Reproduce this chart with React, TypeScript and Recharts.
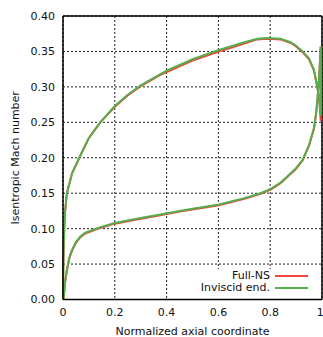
import {
  LineChart,
  Line,
  XAxis,
  YAxis,
  CartesianGrid,
  ReferenceLine,
} from "recharts";

// Blade surface path: pressure side LE -> TE, trailing edge spike, suction side TE -> LE
const axialCoord = [
  0.002, 0.008, 0.015, 0.025, 0.035, 0.05, 0.067, 0.085, 0.106, 0.144, 0.2,
  0.3, 0.376, 0.45, 0.5, 0.602, 0.7, 0.763, 0.802, 0.84, 0.867, 0.899, 0.925,
  0.95, 0.969, 0.978, 0.984, 0.99, 0.995, 0.995, 0.99, 0.982, 0.969, 0.95,
  0.925, 0.9, 0.879, 0.84, 0.789, 0.75, 0.7, 0.602, 0.5, 0.4, 0.376, 0.3,
  0.25, 0.2, 0.144, 0.1, 0.063, 0.035, 0.015, 0.007, 0.003, 0.001, 0,
];

const fullNs = [
  0.0, 0.024, 0.041, 0.059, 0.069, 0.08, 0.088, 0.093, 0.096, 0.101, 0.107,
  0.114, 0.119, 0.124, 0.127, 0.133, 0.142, 0.149, 0.155, 0.164, 0.173, 0.184,
  0.196, 0.217, 0.241, 0.264, 0.289, 0.32, 0.357, 0.252, 0.28, 0.299, 0.323,
  0.339, 0.349, 0.357, 0.362, 0.367, 0.368, 0.367, 0.361, 0.35, 0.337, 0.321,
  0.317, 0.301, 0.288, 0.272, 0.25, 0.228, 0.2, 0.178, 0.15, 0.12, 0.08, 0.04,
  0.0,
];

const inviscidEnd = [
  0.0, 0.025, 0.042, 0.06, 0.07, 0.081, 0.089, 0.094, 0.097, 0.102, 0.108,
  0.115, 0.12, 0.125, 0.128, 0.134, 0.143, 0.15, 0.156, 0.165, 0.174, 0.185,
  0.197, 0.218, 0.242, 0.265, 0.29, 0.32, 0.357, 0.26, 0.28, 0.3, 0.324, 0.34,
  0.35, 0.358, 0.363, 0.368, 0.369, 0.368, 0.363, 0.352, 0.339, 0.323, 0.318,
  0.302, 0.289, 0.273, 0.25, 0.228, 0.2, 0.178, 0.15, 0.12, 0.08, 0.04, 0.0,
];

const xTicks = [0, 0.2, 0.4, 0.6, 0.8, 1];
const yTicks = [0, 0.05, 0.1, 0.15, 0.2, 0.25, 0.3, 0.35, 0.4];

const RED = "#f0463c";
const GREEN = "#57ad4e";
const FONT = "'DejaVu Sans', sans-serif";

const data = axialCoord.map((x, i) => ({
  x,
  fullNs: fullNs[i],
  inviscid: inviscidEnd[i],
}));

const legendItems = [
  { name: "Full-NS", color: RED },
  { name: "Inviscid end.", color: GREEN },
];

// legend drawn over the plot, bottom right (like gnuplot's key)
function LegendBox() {
  return (
    <div
      style={{
        position: "absolute",
        left: 198,
        width: 110,
        top: 269,
        height: 29,
        paddingTop: 1,
        boxSizing: "border-box",
        fontFamily: FONT,
        fontSize: 11,
        color: "#111",
        background: "#fff",
        lineHeight: "12px",
      }}
    >
      {legendItems.map((it) => (
        <div
          key={it.name}
          style={{
            display: "flex",
            alignItems: "center",
            justifyContent: "flex-end",
            height: 12,
          }}
        >
          <span>{it.name}</span>
          <span
            style={{
              display: "inline-block",
              width: 33,
              height: 2,
              marginLeft: 5,
              background: it.color,
            }}
          />
        </div>
      ))}
    </div>
  );
}

export default function App() {
  return (
    <div style={{ position: "absolute", left: 0, top: 0, width: 323, height: 337 }}>
      <LineChart
        width={323}
        height={337}
        data={data}
        margin={{ top: 16, right: 1, bottom: 0, left: 0 }}
        style={{ fontFamily: FONT }}
      >
        <CartesianGrid stroke="#222" strokeDasharray="2 2" />
        <XAxis
          type="number"
          dataKey="x"
          domain={[0, 1]}
          ticks={xTicks}
          tickFormatter={(v: number) => String(v)}
          tick={{ fill: "#111", fontSize: 11 }}
          tickLine={false}
          tickMargin={3}
          axisLine={{ stroke: "#000", strokeWidth: 1.5 }}
          height={37.5}
          label={{
            value: "Normalized axial coordinate",
            position: "insideBottom",
            offset: 2,
            fill: "#111",
            fontSize: 11,
          }}
        />
        <YAxis
          type="number"
          domain={[0, 0.4]}
          ticks={yTicks}
          tickFormatter={(v: number) => v.toFixed(2)}
          tick={{ fill: "#111", fontSize: 11 }}
          tickLine={false}
          axisLine={{ stroke: "#000", strokeWidth: 1.5 }}
          width={63}
          label={{
            value: "Isentropic Mach number",
            angle: -90,
            position: "insideLeft",
            offset: 15,
            fill: "#111",
            fontSize: 11,
            style: { textAnchor: "middle" },
          }}
        />
        <ReferenceLine y={0.4} stroke="#000" strokeWidth={1.5} />
        <ReferenceLine x={1} stroke="#000" strokeWidth={1.5} />
        <Line
          dataKey="fullNs"
          name="Full-NS"
          type="linear"
          stroke={RED}
          strokeWidth={2}
          dot={false}
          isAnimationActive={false}
        />
        <Line
          dataKey="inviscid"
          name="Inviscid end."
          type="linear"
          stroke={GREEN}
          strokeWidth={2}
          dot={false}
          isAnimationActive={false}
        />
      </LineChart>
      <LegendBox />
    </div>
  );
}
